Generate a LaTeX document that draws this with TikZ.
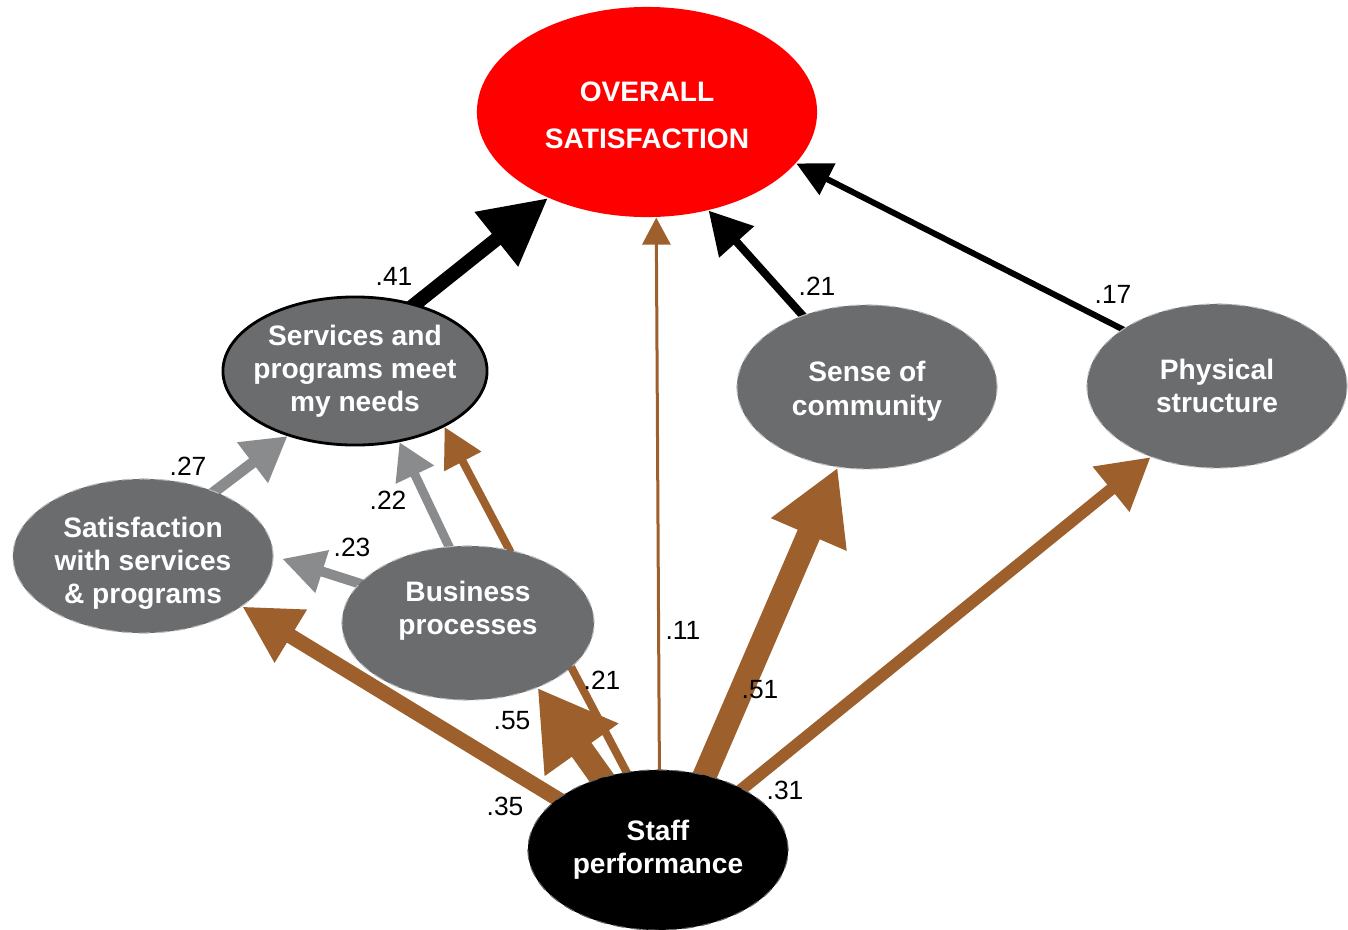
\documentclass[tikz,border=0pt]{standalone}
\usepackage{fontspec}
\setmainfont{Liberation Sans}
\usetikzlibrary{arrows.meta, shapes.geometric, backgrounds}

\definecolor{ovred}{RGB}{255,0,0}
\definecolor{nodegray}{RGB}{107,108,110}
\definecolor{arrgray}{RGB}{138,139,141}
\definecolor{arrbrown}{RGB}{157,96,44}

\begin{document}
\begin{tikzpicture}[x=0.01cm, y=-0.01cm,
    factor/.style={ellipse, fill=nodegray, draw=white!55!nodegray, densely dashed, line width=0.3pt,
        text=white, font=\fontsize{8}{9.4}\selectfont\bfseries, align=center, inner sep=0pt,
        minimum width=2.6cm, minimum height=1.54cm},
    coef/.style={font=\fontsize{7.5}{9}\selectfont, inner sep=0pt},
    link/.style n args={3}{line width=#1, shorten <=-0.12cm, -{Triangle[length=#2, width=#3]}}]
    \useasboundingbox (0,0) rectangle (1348,930);

    % 因子
    \node[ellipse, fill=ovred, text=white, font=\fontsize{8}{13.4}\selectfont\bfseries, align=center,
        inner sep=0pt, minimum width=3.4cm, minimum height=2.1cm] (overall) at (647,112) {\rule{0pt}{7.4pt}OVERALL\\SATISFACTION};
    \node[factor, draw=black, solid, line width=0.8pt, inner xsep=-0.085cm, minimum width=2.64cm, minimum height=1.48cm] (svc) at (355,371) {Services and\\programs meet\\my needs};
    \node[factor] (sat) at (143,556) {\rule{0pt}{10pt}Satisfaction\\with services\\\& programs};
    \node[factor, minimum width=2.52cm] (bus) at (468,623) {Business\\processes\\[-3.4pt]\strut};
    \node[factor, minimum height=1.64cm] (sense) at (867,387) {\rule{0pt}{8.2pt}Sense of\\community};
    \node[factor, minimum height=1.64cm] (phys) at (1217,386) {Physical\\structure};
    \node[factor, fill=black, draw=white!40!black, minimum height=1.6cm] (staff) at (658,850) {Staff\\performance};

    % 路径
    \begin{scope}[on background layer]
        \draw[link={0.14cm}{0.66cm}{0.66cm}, black] (svc.48) -- (overall.221);
        \draw[link={0.08cm}{0.42cm}{0.45cm}, black] (sense.132) -- (overall.302);
        \draw[link={0.06cm}{0.35cm}{0.34cm}, black] (phys.149) -- (overall.341);
        \draw[link={0.03cm}{0.27cm}{0.28cm}, arrbrown] (staff.89) -- (overall.275);
        \draw[link={0.11cm}{0.44cm}{0.48cm}, arrgray] (sat.42) -- (svc.224);
        \draw[link={0.09cm}{0.36cm}{0.40cm}, arrgray] (bus.104) -- (svc.302);
        \draw[link={0.10cm}{0.42cm}{0.42cm}, arrgray, shorten >=0.09cm] (bus.160) -- (sat.0);
        \draw[link={0.08cm}{0.39cm}{0.40cm}, arrbrown] (staff.112) -- (svc.328);
        \draw[link={0.15cm}{0.57cm}{0.58cm}, arrbrown] (staff.153) -- (sat.333);
        \draw[link={0.24cm}{0.76cm}{0.85cm}, arrbrown] (staff.128) -- (bus.317);
        \draw[link={0.24cm}{0.73cm}{0.77cm}, arrbrown] (staff.58) -- (sense.250);
        \draw[link={0.12cm}{0.51cm}{0.55cm}, arrbrown] (staff.36) -- (phys.227);
    \end{scope}

    % 系数
    \node[coef] (c41) at (394,276) {.41};
    \node[coef] (c21a) at (817,286) {.21};
    \node[coef] (c17) at (1113,294) {.17};
    \node[coef] (c11) at (683,630) {.11};
    \node[coef] (c27) at (188,466) {.27};
    \node[coef] (c22) at (388,500) {.22};
    \node[coef] (c23) at (352,547) {.23};
    \node[coef] (c55) at (512,721) {.55};
    \node[coef] (c21b) at (602,680) {.21};
    \node[coef] (c35) at (505,806) {.35};
    \node[coef] (c51) at (760,690) {.51};
    \node[coef] (c31) at (785,790) {.31};
\end{tikzpicture}
\end{document}
